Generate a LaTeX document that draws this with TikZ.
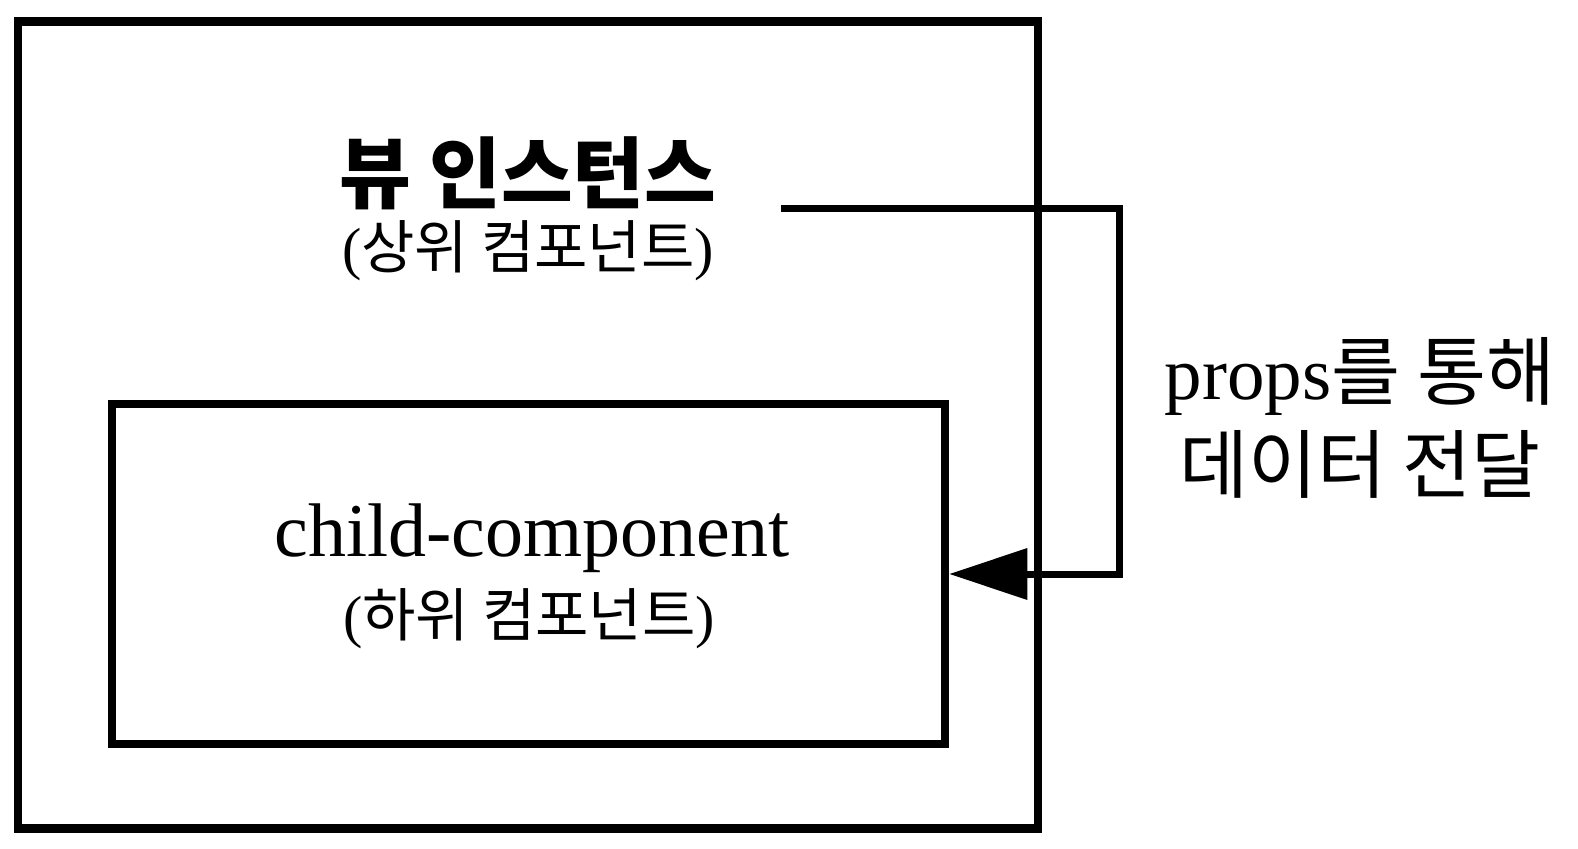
\documentclass[tikz,border=0pt]{standalone}
\usepackage{fontspec}
\setmainfont{Liberation Serif}
\newfontfamily\krfont{Noto Sans CJK KR}
\newcommand{\ko}[1]{{\krfont #1}}
\usetikzlibrary{positioning,arrows.meta}

\tikzset{
  frame/.style={draw, line width=8.5pt, inner sep=0pt},
  flow/.style={line width=7pt, -{Triangle[length=78pt,width=50pt]}},
}

\begin{document}
\begin{tikzpicture}[x=1pt,y=-1pt]
  \useasboundingbox (0,0) rectangle (1578,848);
  % the two boxes
  \node[frame, minimum width=1020pt, minimum height=807pt] (parent) at (528,425) {};
  \node[frame, minimum width=833pt, minimum height=340pt] (child) at (528.5,574) {};

  % texts
  \node[font=\krfont\bfseries\fontsize{78}{80}\selectfont] (parenttitle) at (528,173) {뷰 인스턴스};
  \node[font=\fontsize{58}{64}\selectfont] (parentsub) at (528,251) {(\ko{상위 컴포넌트})};
  \node[font=\fontsize{76}{80}\selectfont] (childtitle) at (532,538) {child-component};
  \node[font=\fontsize{58}{64}\selectfont] (childsub) at (529,619) {(\ko{하위 컴포넌트})};
  \node[align=center, font=\fontsize{75}{93}\selectfont] (props) at (1360,418) {props\ko{를 통해}\\\ko{데이터 전달}};

  % data flow
  \coordinate (src) at (781,208);
  \coordinate (bend) at (1119,208);
  \draw[flow] (src) -- (bend) |- (child.east);
\end{tikzpicture}
\end{document}
